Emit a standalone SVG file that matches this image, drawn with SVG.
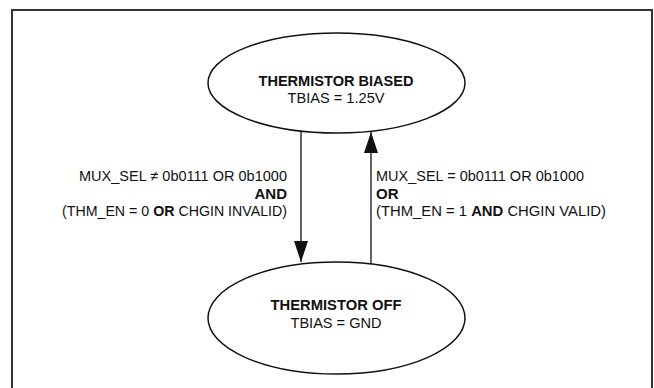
<svg xmlns="http://www.w3.org/2000/svg" width="654" height="388" viewBox="0 0 654 388">
<style>
text{font-family:"Liberation Sans Narrow","Liberation Sans",Arial,sans-serif;font-size:15px;fill:#111}
.b{font-weight:bold}
.node{fill:#fff;stroke:#111;stroke-width:1.5}
.edge{stroke:#111;stroke-width:1.3;fill:none}
</style>
<defs>
<marker id="ah" viewBox="0 0 21 14" refX="21" refY="7" markerWidth="21" markerHeight="14" markerUnits="userSpaceOnUse" orient="auto">
<path d="M0,0 L21,7 L0,14 Z" fill="#111"/>
</marker>
</defs>
<rect width="654" height="388" fill="#fff"/>
<path d="M12,388 V10 H652 V388" fill="none" stroke="#333" stroke-width="2"/>
<g id="connectors">
<line class="edge" x1="301" y1="128" x2="301" y2="262" marker-end="url(#ah)"/>
<line class="edge" x1="371" y1="264" x2="371" y2="132" marker-end="url(#ah)"/>
<text text-anchor="end" x="287" y="181" textLength="208" lengthAdjust="spacingAndGlyphs">MUX_SEL ≠ 0b0111 OR 0b1000</text>
<text text-anchor="end" x="287" y="198.5" class="b">AND</text>
<text text-anchor="end" x="287" y="216" textLength="225" lengthAdjust="spacingAndGlyphs">(THM_EN = 0 <tspan class="b">OR</tspan> CHGIN INVALID)</text>
<text x="376" y="181" textLength="208" lengthAdjust="spacingAndGlyphs">MUX_SEL = 0b0111 OR 0b1000</text>
<text x="376" y="198.5" class="b">OR</text>
<text x="376" y="216" textLength="230" lengthAdjust="spacingAndGlyphs">(THM_EN = 1 <tspan class="b">AND</tspan> CHGIN VALID)</text>
</g>
<g id="biased">
<ellipse class="node" cx="336.5" cy="83" rx="128.5" ry="50"/>
<text class="b" text-anchor="middle" x="336" y="86" textLength="155" lengthAdjust="spacingAndGlyphs">THERMISTOR BIASED</text>
<text text-anchor="middle" x="336" y="103" textLength="97" lengthAdjust="spacingAndGlyphs">TBIAS = 1.25V</text>
</g>
<g id="off">
<ellipse class="node" cx="336.5" cy="318" rx="128.5" ry="56"/>
<text class="b" text-anchor="middle" x="336" y="310" textLength="131" lengthAdjust="spacingAndGlyphs">THERMISTOR OFF</text>
<text text-anchor="middle" x="336" y="328" textLength="91" lengthAdjust="spacingAndGlyphs">TBIAS = GND</text>
</g>
</svg>
